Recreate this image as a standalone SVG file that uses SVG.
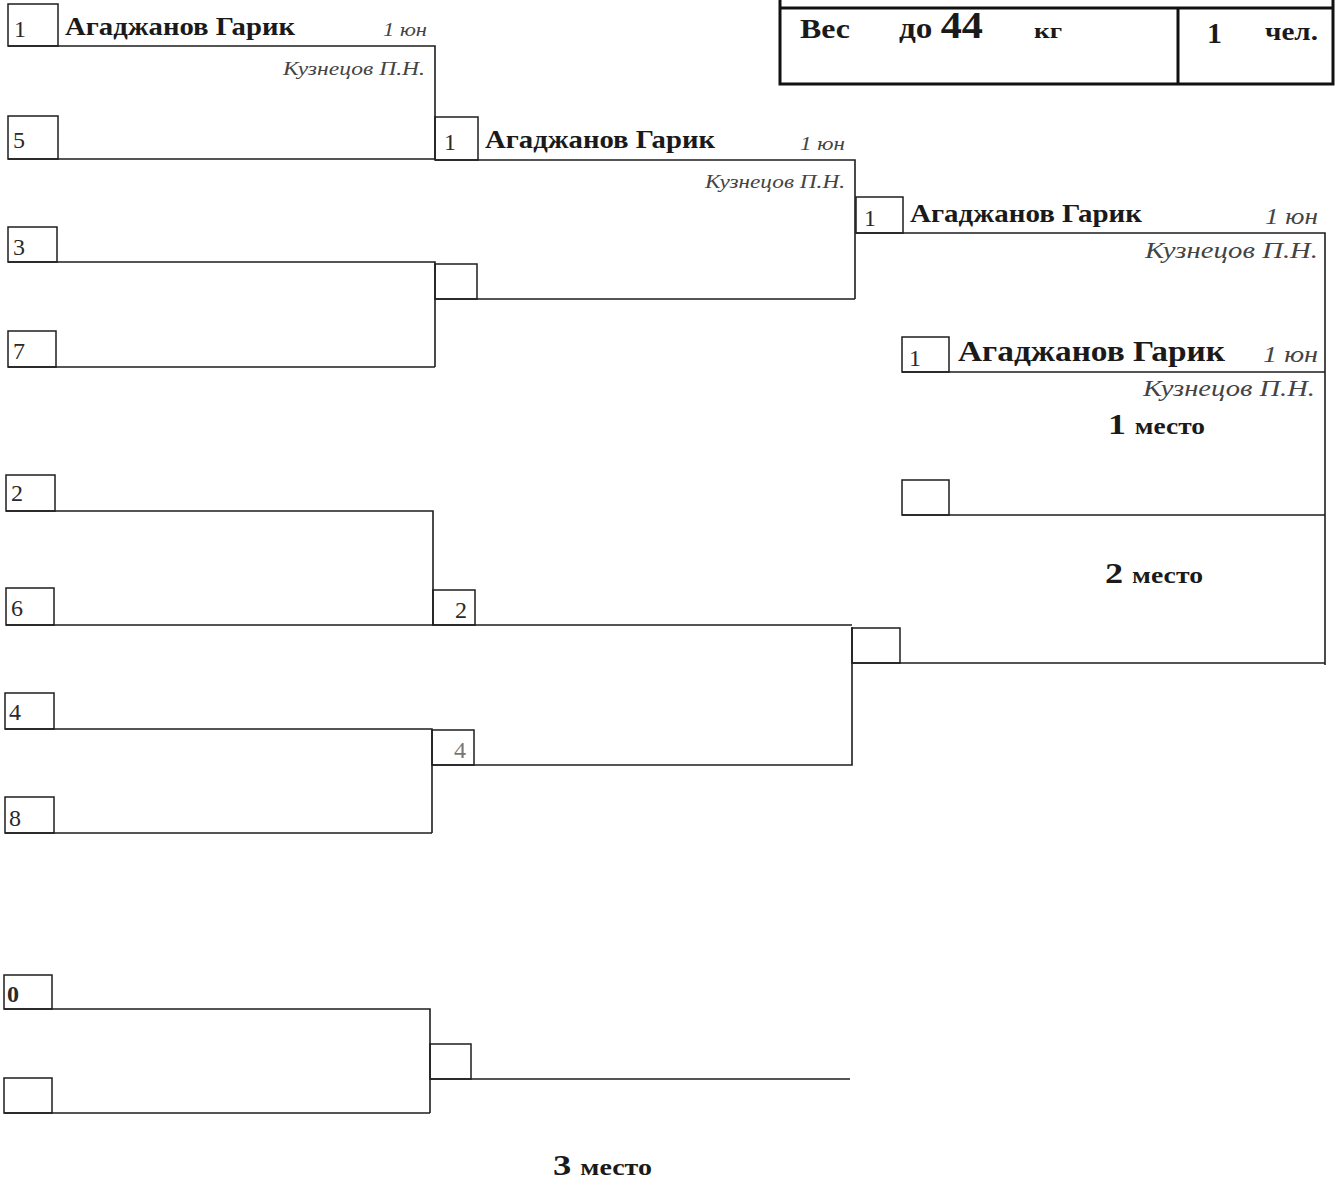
<svg xmlns="http://www.w3.org/2000/svg" width="1338" height="1184" viewBox="0 0 1338 1184">
<style>
.ln{fill:none;stroke:#1e1e1e;stroke-width:1.6}
.bx{fill:none;stroke:#1e1e1e;stroke-width:1.5}
.hb{fill:none;stroke:#111;stroke-width:3}
.num{font-family:"Liberation Serif","Times New Roman",serif;font-size:24px;fill:#2a2a2a}
.nm{font-family:"Liberation Serif","Times New Roman",serif;font-weight:bold;fill:#1a1a1a}
.it{font-family:"Liberation Serif","Times New Roman",serif;font-style:italic;fill:#444}
.hd{font-family:"Liberation Serif","Times New Roman",serif;font-weight:bold;fill:#1a1a1a}
</style>
<rect width="1338" height="1184" fill="#fff"/>
<g id="header">
<path class="hb" d="M780,0 V84 H1333 V0 M780,8 H1333 M1178,8 V84"/>
<text class="hd" x="800" y="38" font-size="27" textLength="50" lengthAdjust="spacingAndGlyphs">Вес</text>
<text class="hd" x="899" y="38" font-size="29" textLength="84" lengthAdjust="spacingAndGlyphs">до <tspan font-size="37">44</tspan></text>
<text class="hd" x="1034" y="38" font-size="20" textLength="28" lengthAdjust="spacingAndGlyphs">кг</text>
<text class="hd" x="1207" y="43" font-size="30">1</text>
<text class="hd" x="1265" y="40" font-size="25" textLength="53" lengthAdjust="spacingAndGlyphs">чел.</text>
</g>
<g id="connectors">
<path class="ln" d="M8,46 H435 V159 M8,159 H435"/>
<path class="ln" d="M8,262 H435 V367 M8,367 H435"/>
<path class="ln" d="M435,160 H855 V299 M435,299 H855"/>
<path class="ln" d="M856,233 H1325 V665"/>
<path class="ln" d="M902,372 H1325 M902,515 H1325"/>
<path class="ln" d="M6,511 H433 V625 M6,625 H852"/>
<path class="ln" d="M5,729 H432 V833 M5,833 H432"/>
<path class="ln" d="M432,765 H852 V627 M852,663 H1325"/>
<path class="ln" d="M4,1009 H430 V1113 M4,1113 H430 M430,1079 H850"/>
</g>
<g id="r1-1"><rect class="bx" x="8" y="4" width="50" height="42"/><text class="num" x="14" y="37">1</text>
<text class="nm" x="65" y="35" font-size="25" textLength="230" lengthAdjust="spacingAndGlyphs">Агаджанов Гарик</text>
<text class="it" x="427" y="36" font-size="18" text-anchor="end" textLength="44" lengthAdjust="spacingAndGlyphs">1 юн</text>
<text class="it" x="425" y="75" font-size="18" text-anchor="end" textLength="142" lengthAdjust="spacingAndGlyphs">Кузнецов П.Н.</text></g>
<g id="r1-5"><rect class="bx" x="8" y="116" width="50" height="43"/><text class="num" x="13" y="148">5</text></g>
<g id="r1-3"><rect class="bx" x="8" y="227" width="49" height="35"/><text class="num" x="13" y="255">3</text></g>
<g id="r1-7"><rect class="bx" x="8" y="331" width="48" height="36"/><text class="num" x="13" y="359">7</text></g>
<g id="r1-2"><rect class="bx" x="6" y="475" width="49" height="36"/><text class="num" x="11" y="501">2</text></g>
<g id="r1-6"><rect class="bx" x="6" y="588" width="48" height="37"/><text class="num" x="11" y="616">6</text></g>
<g id="r1-4"><rect class="bx" x="5" y="693" width="49" height="36"/><text class="num" x="9" y="720">4</text></g>
<g id="r1-8"><rect class="bx" x="5" y="797" width="49" height="36"/><text class="num" x="9" y="826">8</text></g>
<g id="r2-1"><rect class="bx" x="435" y="117" width="43" height="43"/><text class="num" x="444" y="150">1</text>
<text class="nm" x="485" y="148" font-size="25" textLength="230" lengthAdjust="spacingAndGlyphs">Агаджанов Гарик</text>
<text class="it" x="845" y="150" font-size="18" text-anchor="end" textLength="45" lengthAdjust="spacingAndGlyphs">1 юн</text>
<text class="it" x="845" y="188" font-size="18" text-anchor="end" textLength="140" lengthAdjust="spacingAndGlyphs">Кузнецов П.Н.</text></g>
<g id="r2-b"><rect class="bx" x="435" y="264" width="42" height="35"/></g>
<g id="r2-2"><rect class="bx" x="433" y="590" width="42" height="35"/><text class="num" x="455" y="618">2</text></g>
<g id="r2-4"><rect class="bx" x="432" y="730" width="42" height="35"/><text class="num" x="454" y="758" style="fill:#777">4</text></g>
<g id="r3-1"><rect class="bx" x="856" y="197" width="47" height="36"/><text class="num" x="864" y="226">1</text>
<text class="nm" x="910" y="222" font-size="25" textLength="232" lengthAdjust="spacingAndGlyphs">Агаджанов Гарик</text>
<text class="it" x="1318" y="224" font-size="23" text-anchor="end" textLength="53" lengthAdjust="spacingAndGlyphs">1 юн</text>
<text class="it" x="1318" y="258" font-size="23" text-anchor="end" textLength="173" lengthAdjust="spacingAndGlyphs">Кузнецов П.Н.</text></g>
<g id="r3-b"><rect class="bx" x="852" y="628" width="48" height="35"/></g>
<g id="final-1"><rect class="bx" x="902" y="337" width="47" height="35"/><text class="num" x="909" y="366">1</text>
<text class="nm" x="958" y="361" font-size="29" textLength="267" lengthAdjust="spacingAndGlyphs">Агаджанов Гарик</text>
<text class="it" x="1318" y="362" font-size="23" text-anchor="end" textLength="55" lengthAdjust="spacingAndGlyphs">1 юн</text>
<text class="it" x="1315" y="396" font-size="23" text-anchor="end" textLength="172" lengthAdjust="spacingAndGlyphs">Кузнецов П.Н.</text></g>
<g id="final-b"><rect class="bx" x="902" y="480" width="47" height="35"/></g>
<g id="bronze-0"><rect class="bx" x="4" y="975" width="48" height="34"/><text class="num" x="7" y="1002" font-weight="bold">0</text></g>
<g id="bronze-b"><rect class="bx" x="4" y="1078" width="48" height="35"/></g>
<g id="bronze-w"><rect class="bx" x="430" y="1044" width="41" height="35"/></g>
<g id="places">
<text class="hd" x="1108" y="434" font-size="30" textLength="97" lengthAdjust="spacingAndGlyphs">1 <tspan font-size="23">место</tspan></text>
<text class="hd" x="1105" y="583" font-size="30" textLength="98" lengthAdjust="spacingAndGlyphs">2 <tspan font-size="23">место</tspan></text>
<text class="hd" x="553" y="1175" font-size="30" textLength="99" lengthAdjust="spacingAndGlyphs">3 <tspan font-size="23">место</tspan></text>
</g>
</svg>
